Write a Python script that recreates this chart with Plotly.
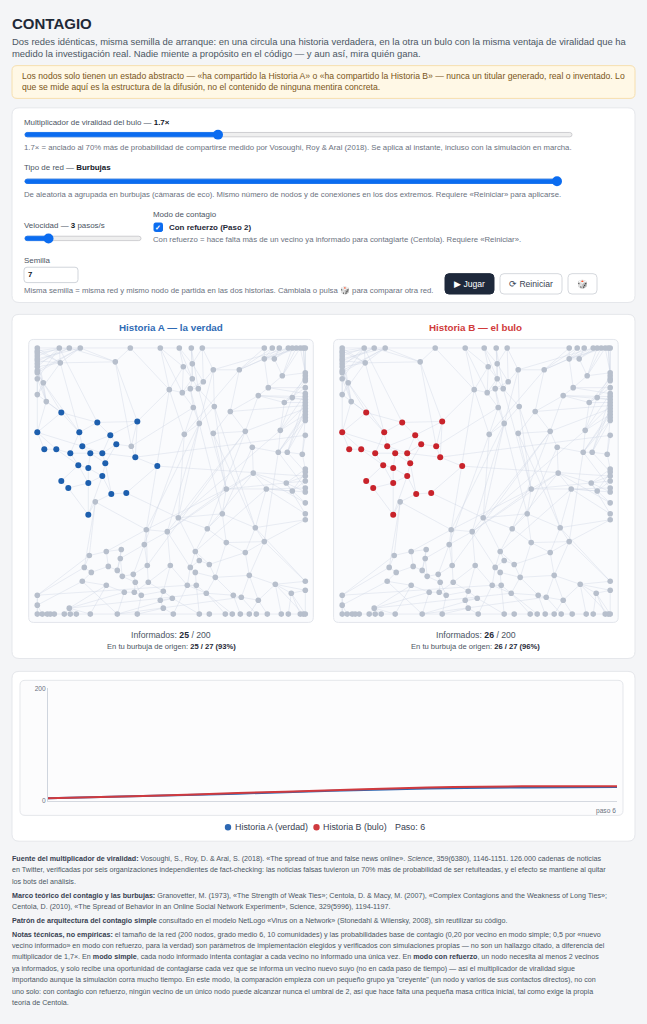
import plotly.graph_objects as go

# page is drawn at 631x1008 inside the default 8px body margin
W, H = 631, 1008
FONT = "Liberation Sans, Arial, sans-serif"

# ---- network layout (same red in both stories), layout units ----
top_row = [(0, 0), (22, 0), (32, 0), (43, 0), (93, 0), (123, 0), (142, 0), (154, 0), (165, 0),
           (227, 0), (235, 0), (242, 0), (251, 0), (255, 0), (259, 0), (263, 0), (266, 0), (268, 0)]
left_col = [(0, 3), (0, 5), (0, 8), (0, 11), (0, 13), (0, 16), (0, 19), (0, 23), (0, 25), (0, 31), (0, 47)]
right_col = [(268, 25), (268, 28), (268, 31), (268, 33), (268, 40), (268, 46), (268, 49), (268, 52),
             (268, 55), (268, 58), (268, 61), (268, 64), (268, 67), (268, 70), (268, 73), (268, 88),
             (268, 122), (268, 125), (268, 129), (268, 134), (268, 141), (268, 145), (268, 156),
             (268, 167), (268, 173), (268, 235), (268, 244)]
bottom_row = [(0, 268), (5, 268), (10, 268), (13, 268), (17, 268), (27, 268), (33, 268), (39, 268),
              (53, 268), (80, 268), (100, 268), (136, 268), (162, 268), (172, 268), (188, 268),
              (195, 268), (203, 268), (212, 268), (219, 268), (230, 268), (244, 268), (251, 268),
              (263, 268), (266, 268), (268, 268)]
interior = [(23, 15), (78, 14), (6, 35), (9, 54), (132, 42), (94, 99), (58, 155), (227, 11), (237, 11),
            (146, 19), (155, 16), (176, 22), (202, 22), (155, 31), (166, 34), (145, 45), (153, 41),
            (161, 41), (245, 28), (231, 40), (221, 48), (255, 50), (247, 55), (156, 60), (177, 59),
            (193, 64), (162, 76), (147, 87), (176, 86), (208, 84), (243, 83), (215, 100), (241, 105),
            (250, 105), (265, 107), (216, 126), (249, 136), (255, 144), (189, 142), (229, 142),
            (141, 171), (185, 167), (170, 182), (218, 181), (189, 196), (227, 195), (109, 183),
            (130, 185), (107, 198), (52, 209), (69, 205), (84, 203), (83, 212), (158, 205), (208, 206),
            (162, 214), (172, 218), (153, 221), (158, 226), (178, 231), (212, 229), (133, 219),
            (110, 219), (47, 221), (54, 226), (71, 220), (80, 224), (96, 228), (85, 230), (45, 235),
            (69, 239), (98, 236), (111, 236), (150, 239), (159, 239), (238, 238), (254, 247),
            (169, 247), (196, 249), (204, 251), (221, 254), (87, 246), (97, 246), (104, 249),
            (126, 245), (135, 252), (123, 254), (32, 262), (126, 262), (0, 249), (0, 259)]
seed_bubble = [(24, 65), (60, 75), (100, 74), (0, 85), (42, 85), (73, 88), (79, 97), (7, 102), (19, 102),
               (33, 106), (45, 99), (53, 106), (65, 106), (98, 110), (41, 118), (51, 121), (68, 116),
               (120, 119), (65, 129), (24, 134), (51, 136), (31, 141), (74, 147), (89, 146), (51, 168)]

nodes = top_row + left_col + right_col + bottom_row + interior + seed_bubble
node_u = [n[0] for n in nodes]
node_v = [n[1] for n in nodes]

edges = [
    # burbuja superior izquierda
    (0, 18), (0, 1), (1, 2), (2, 3), (18, 1), (19, 2), (20, 1), (21, 3), (22, 81), (23, 2), (24, 81),
    (25, 3), (26, 83), (27, 1), (28, 81), (18, 81), (20, 83), (22, 2), (25, 84), (27, 84), (0, 81),
    (21, 84), (1, 81), (3, 81), (83, 84), (28, 83), (19, 28), (24, 1), (26, 3), (28, 172), (84, 172),
    (83, 176), (27, 175), (84, 175), (26, 172), (3, 82), (2, 82), (81, 82), (3, 4), (4, 5), (5, 6),
    (82, 86), (82, 174), (1, 173), (81, 176),
    # burbuja de origen
    (172, 173), (172, 176), (172, 175), (173, 174), (173, 177), (173, 176), (174, 177), (174, 185),
    (174, 86), (175, 179), (175, 180), (175, 182), (176, 182), (176, 181), (177, 178), (177, 184),
    (178, 184), (178, 188), (178, 86), (179, 180), (180, 181), (180, 186), (181, 183), (182, 183),
    (182, 184), (183, 187), (183, 188), (184, 188), (184, 185), (185, 86), (185, 189), (186, 187),
    (186, 191), (187, 192), (188, 190), (188, 194), (190, 192), (190, 194), (191, 193), (192, 193),
    (192, 196), (193, 196), (194, 195), (195, 189), (196, 87), (190, 196), (186, 192), (181, 186),
    (187, 190), (177, 182), (183, 184), (174, 85), (189, 47), (195, 121), (194, 87), (86, 104),
    (185, 44),
    # arriba centro
    (5, 90), (5, 96), (6, 90), (6, 91), (7, 91), (7, 94), (8, 92), (8, 91), (90, 94), (91, 94),
    (90, 96), (94, 97), (94, 98), (95, 98), (95, 97), (96, 97), (97, 104), (98, 105), (96, 104),
    (85, 96), (85, 90), (85, 108), (104, 107), (105, 107), (107, 108), (104, 108), (95, 92), (92, 105),
    (5, 85), (4, 85), (6, 94), (8, 95), (91, 95), (7, 98), (97, 98), (94, 96), (107, 121), (98, 119),
    (105, 119), (92, 12), (93, 108), (92, 107), (4, 82),
    # arriba derecha
    (9, 88), (10, 88), (11, 89), (12, 89), (13, 99), (14, 99), (15, 29), (16, 30), (17, 29), (88, 89),
    (88, 93), (89, 99), (9, 93), (10, 93), (13, 89), (14, 88), (15, 99), (16, 31), (17, 32), (99, 100),
    (100, 101), (88, 100), (93, 106), (92, 93), (12, 93), (99, 29), (100, 33), (11, 88), (15, 88), (8, 9),
    # derecha centro
    (30, 102), (31, 103), (32, 102), (33, 103), (34, 111), (35, 114), (36, 102), (37, 103), (38, 111),
    (39, 114), (40, 113), (41, 111), (42, 115), (43, 114), (44, 115), (34, 100), (36, 101), (38, 106),
    (39, 110), (41, 113), (43, 113), (101, 106), (101, 103), (102, 103), (103, 111), (106, 110),
    (106, 109), (109, 110), (110, 112), (111, 113), (112, 113), (112, 116), (113, 114), (114, 115),
    (101, 110), (102, 111), (35, 101),
    # derecha abajo
    (45, 117), (46, 118), (47, 117), (48, 118), (49, 120), (50, 117), (51, 118), (52, 120), (53, 124),
    (45, 115), (46, 114), (116, 117), (116, 120), (116, 119), (117, 118), (118, 120), (119, 120),
    (119, 122), (119, 109), (120, 124), (48, 119), (51, 116), (52, 117), (50, 120), (49, 113),
    (54, 126), (55, 157), (54, 156), (55, 156), (54, 124), (53, 126),
    # centro abajo
    (121, 122), (121, 123), (122, 123), (122, 124), (123, 125), (124, 126), (125, 126), (123, 134),
    (125, 135), (126, 135), (122, 125), (124, 135), (121, 134), (134, 136), (134, 138), (135, 141),
    (136, 137), (136, 138), (137, 140), (138, 139), (139, 140), (140, 141), (135, 137), (134, 137),
    (126, 141), (125, 140), (121, 128), (107, 128), (108, 121), (110, 121), (112, 122), (109, 124),
    (113, 126), (108, 129), (105, 124), (97, 122), (85, 127), (110, 143), (116, 123), (120, 134),
    (119, 127), (119, 128), (116, 128), (107, 127), (110, 123), (111, 121),
    # abajo izquierda
    (127, 128), (127, 129), (128, 129), (128, 142), (129, 143), (127, 131), (130, 131), (130, 144),
    (131, 132), (131, 146), (132, 133), (132, 147), (133, 147), (133, 149), (143, 148), (143, 153),
    (142, 153), (142, 154), (144, 145), (145, 150), (145, 146), (146, 147), (147, 149), (148, 152),
    (149, 152), (150, 151), (151, 162), (152, 163), (153, 163), (162, 163), (163, 164), (164, 165),
    (165, 167), (166, 167), (165, 166), (153, 165), (148, 149), (129, 133), (129, 148), (128, 138),
    (142, 165), (162, 168), (169, 167), (152, 164), (127, 143),
    # abajo centro
    (154, 155), (155, 158), (154, 158), (158, 159), (159, 160), (160, 161), (161, 156), (156, 157),
    (155, 139), (154, 138), (159, 140), (161, 141), (156, 141), (157, 77), (157, 78), (161, 75),
    (160, 74), (159, 72), (158, 70), (155, 68), (154, 67), (166, 68), (169, 67), (156, 76), (157, 80),
    (141, 160), (140, 158), (158, 71), (161, 73), (156, 79),
    # esquina inferior izquierda
    (170, 56), (171, 56), (170, 171), (171, 57), (56, 57), (57, 58), (58, 59), (59, 60), (60, 61),
    (61, 62), (62, 63), (63, 64), (168, 61), (168, 63), (168, 64), (170, 144), (171, 150), (168, 151),
    (64, 151), (65, 162), (66, 164), (65, 150), (66, 169), (65, 166), (170, 130), (87, 130), (87, 144),
    (87, 127), (170, 154), (168, 158), (65, 160), (64, 65), (65, 66), (66, 67),
    (67, 68), (68, 69), (69, 70), (70, 71), (72, 73), (74, 75), (75, 76), (77, 78), (78, 79), (79, 80),
    (80, 55),
]

informed_a = [172, 173, 174, 175, 176, 177, 178, 179, 180, 181, 182, 183, 184, 185, 186, 187, 188,
              189, 190, 191, 192, 193, 194, 195, 196]
informed_b = informed_a + [86]

# ---- curva de informados ----
steps = [0, 1, 2, 3, 4, 5, 6]
historia_a = [5, 9, 13, 18, 22, 24, 25]
historia_b = [5, 9, 14, 19, 24, 26, 26]


def X(px):
    return (px - 8) / W


def Y(py):
    return 1 - (py - 8) / H


shapes = []
annotations = []


def rrect(x0, y0, x1, y1, r, fill, line="#e5e7eb", width=1):
    p = (f"M{X(x0 + r)},{Y(y0)} L{X(x1 - r)},{Y(y0)} Q{X(x1)},{Y(y0)} {X(x1)},{Y(y0 + r)} "
         f"L{X(x1)},{Y(y1 - r)} Q{X(x1)},{Y(y1)} {X(x1 - r)},{Y(y1)} L{X(x0 + r)},{Y(y1)} "
         f"Q{X(x0)},{Y(y1)} {X(x0)},{Y(y1 - r)} L{X(x0)},{Y(y0 + r)} Q{X(x0)},{Y(y0)} {X(x0 + r)},{Y(y0)} Z")
    shapes.append(dict(type="path", xref="paper", yref="paper", path=p, fillcolor=fill,
                       line=dict(color=line, width=width), layer="below"))


def dot(cx, cy, r, color):
    shapes.append(dict(type="circle", xref="paper", yref="paper", x0=X(cx - r), x1=X(cx + r),
                       y0=Y(cy + r), y1=Y(cy - r), fillcolor=color, line=dict(width=0), layer="below"))


def txt(px, py, s, size=8, color="#4b5563", anchor="left"):
    annotations.append(dict(x=X(px), y=Y(py), xref="paper", yref="paper", text=s, showarrow=False,
                            xanchor=anchor, yanchor="middle", borderpad=0,
                            font=dict(size=size, color=color, family=FONT)))


def slider(x0, x1, y, pos):
    rrect(x0, y - 2.2, x1, y + 2.2, 2.2, "#efefef", "#c4c4c8", 0.8)
    rrect(x0, y - 2.2, pos, y + 2.2, 2.2, "#0b6cf0", "#0b6cf0", 0.8)
    dot(pos, y, 5, "#0b6cf0")


DARK = "#111827"
LBL = 7.95
HLP = 7.75

# cabecera
txt(11, 20, "<b>CONTAGIO</b>", 15, "#1f2937")
txt(11, 37.5, "Dos redes idénticas, misma semilla de arranque: en una circula una historia verdadera, "
              "en la otra un bulo con la misma ventaja de viralidad que ha", 9.45)
txt(11, 49.5, "medido la investigación real. Nadie miente a propósito en el código — y aun así, mira quién gana.", 9.45)

rrect(12, 62, 635, 95, 5, "#fff8e6", "#f6dfae")
txt(21, 72.5, "Los nodos solo tienen un estado abstracto — «ha compartido la Historia A» o «ha compartido "
              "la Historia B» — nunca un titular generado, real o inventado. Lo", 8.65, "#7a5618")
txt(21, 84, "que se mide aquí es la estructura de la difusión, no el contenido de ninguna mentira concreta.",
    8.65, "#7a5618")

# controles
rrect(12, 104.5, 635, 300.5, 7, "#ffffff", "#e5e7eb")
txt(23, 119, f"Multiplicador de viralidad del bulo — <span style='color:{DARK}'><b>1.7×</b></span>", LBL)
slider(25, 572, 131.5, 218)
txt(23, 144.5, "1.7× = anclado al 70% más de probabilidad de compartirse medido por Vosoughi, Roy & Aral "
               "(2018). Se aplica al instante, incluso con la simulación en marcha.", HLP, "#6b7280")
txt(23, 165, f"Tipo de red — <span style='color:{DARK}'><b>Burbujas</b></span>", LBL)
slider(25, 558, 178.5, 557)
txt(23, 191.5, "De aleatoria a agrupada en burbujas (cámaras de eco). Mismo número de nodos y de conexiones "
               "en los dos extremos. Requiere «Reiniciar» para aplicarse.", HLP, "#6b7280")
txt(23, 222.5, f"Velocidad — <span style='color:{DARK}'><b>3</b></span> pasos/s", LBL)
slider(25, 141, 236, 48.5)
txt(152, 212, "Modo de contagio", LBL)
rrect(154, 220.5, 162.5, 229, 1.5, "#0b6cf0", "#0b6cf0")
txt(158.3, 224.8, "<b>✓</b>", 7, "#ffffff", "center")
txt(168, 225, "<span style='color:#1f2937'><b>Con refuerzo (Paso 2)</b></span>", LBL)
txt(152, 237.5, "Con refuerzo = hace falta más de un vecino ya informado para contagiarte (Centola). "
                "Requiere «Reiniciar».", HLP, "#6b7280")
txt(23, 258, "Semilla", LBL)
rrect(24, 265, 78, 280.5, 3, "#ffffff", "#d1d5db")
txt(27, 272.8, "<b>7</b>", 7.8, DARK)
txt(23, 288, "Misma semilla = misma red y mismo nodo de partida en las dos historias. Cámbiala o pulsa 🎲 "
             "para comparar otra red.", HLP, "#6b7280")
rrect(445, 271.5, 494, 292, 4, "#1e293b", "#1e293b")
txt(469.5, 282, "▶ Jugar", 8.6, "#ffffff", "center")
rrect(500, 271.5, 562, 292, 4, "#ffffff", "#d6d9de")
txt(531, 282, "⟳ Reiniciar", 8.6, "#374151", "center")
rrect(568, 271.5, 597, 292, 4, "#ffffff", "#d6d9de")
txt(582.5, 282, "🎲", 8.6, "#6b7280", "center")

# redes
rrect(12, 312.5, 635, 659, 7, "#ffffff", "#e5e7eb")
BOX = 284.6
panels = [(28.7, "x", "y", informed_a, "#1d5fae", "Historia A — la verdad", "#2f6bb5", 25, "25 / 27 (93%)"),
          (333.6, "x2", "y2", informed_b, "#c8232b", "Historia B — el bulo", "#d03b3b", 26, "26 / 27 (96%)")]
traces = []
for left, xa, ya, informed, col, title, tcol, n_inf, burbuja in panels:
    rrect(left, 337.7, left + BOX, 622.7, 5, "#fafbfd", "#e3e6ec")
    cx = left + BOX / 2
    txt(cx, 326, f"<b>{title}</b>", 9.8, tcol, "center")
    txt(cx, 635, f"Informados: <span style='color:#1f2937'><b>{n_inf}</b></span> / 200", 8.7, "#4b5563", "center")
    txt(cx, 647.3, f"En tu burbuja de origen: <span style='color:#1f2937'><b>{burbuja}</b></span>", 7.6,
        "#4b5563", "center")
    ex, ey = [], []
    for i, j in edges:
        ex += [node_u[i], node_u[j], None]
        ey += [node_v[i], node_v[j], None]
    traces.append(go.Scatter(x=ex, y=ey, mode="lines", xaxis=xa, yaxis=ya, hoverinfo="skip",
                             line=dict(color="rgba(205,212,228,0.5)", width=0.8)))
    rest = [k for k in range(len(nodes)) if k not in informed]
    traces.append(go.Scatter(x=[node_u[k] for k in rest], y=[node_v[k] for k in rest], mode="markers",
                             xaxis=xa, yaxis=ya, marker=dict(size=5.6, color="#b7bfcc")))
    traces.append(go.Scatter(x=[node_u[k] for k in informed], y=[node_v[k] for k in informed],
                             mode="markers", xaxis=xa, yaxis=ya, marker=dict(size=6, color=col)))

# grafico temporal
rrect(12, 672, 635, 843, 7, "#ffffff", "#e5e7eb")
rrect(20, 681, 623, 817, 5, "#fcfcfd", "#e5e7eb")
traces.append(go.Scatter(x=steps, y=historia_a, mode="lines", xaxis="x3", yaxis="y3",
                         line=dict(color="#2d68b3", width=2, shape="spline")))
traces.append(go.Scatter(x=steps, y=historia_b, mode="lines", xaxis="x3", yaxis="y3",
                         line=dict(color="#cf3a3f", width=2, shape="spline")))
txt(617, 812.5, "paso 6", 6.6, "#6b7280", "right")
dot(228, 829, 3.2, "#2d68b3")
txt(233.5, 829, "Historia A (verdad)", 8.9, "#374151")
dot(316.5, 829, 3.2, "#cf3a3f")
txt(322, 829, "Historia B (bulo)", 8.9, "#374151")
txt(393.5, 829, "Paso: 6", 8.9, "#374151")

# notas
B = "#374151"
notas = [
    (861, f"<span style='color:{B}'><b>Fuente del multiplicador de viralidad:</b></span> Vosoughi, S., Roy, D. & Aral, S. "
          "(2018). «The spread of true and false news online». <i>Science</i>, 359(6380), 1146-1151. 126.000 cadenas de noticias"),
    (872.5, "en Twitter, verificadas por seis organizaciones independientes de fact-checking: las noticias falsas "
            "tuvieron un 70% más de probabilidad de ser retuiteadas, y el efecto se mantiene al quitar"),
    (884, "los bots del análisis."),
    (898, f"<span style='color:{B}'><b>Marco teórico del contagio y las burbujas:</b></span> Granovetter, M. (1973), "
          "«The Strength of Weak Ties»; Centola, D. & Macy, M. (2007), «Complex Contagions and the Weakness of Long Ties»;"),
    (909.5, "Centola, D. (2010), «The Spread of Behavior in an Online Social Network Experiment», Science, "
            "329(5996), 1194-1197."),
    (923, f"<span style='color:{B}'><b>Patrón de arquitectura del contagio simple</b></span> consultado en el modelo "
          "NetLogo «Virus on a Network» (Stonedahl & Wilensky, 2008), sin reutilizar su código."),
    (937, f"<span style='color:{B}'><b>Notas técnicas, no empíricas:</b></span> el tamaño de la red (200 nodos, grado "
          "medio 6, 10 comunidades) y las probabilidades base de contagio (0,20 por vecino en modo simple; 0,5 por «nuevo"),
    (948.5, "vecino informado» en modo con refuerzo, para la verdad) son parámetros de implementación elegidos y "
            "verificados con simulaciones propias — no son un hallazgo citado, a diferencia del"),
    (960, f"multiplicador de 1,7×. En <span style='color:{B}'><b>modo simple</b></span>, cada nodo informado intenta "
          f"contagiar a cada vecino no informado una única vez. En <span style='color:{B}'><b>modo con refuerzo</b></span>, "
          "un nodo necesita al menos 2 vecinos"),
    (971.5, "ya informados, y solo recibe una oportunidad de contagiarse cada vez que se informa un vecino nuevo "
            "suyo (no en cada paso de tiempo) — así el multiplicador de viralidad sigue"),
    (983, "importando aunque la simulación corra mucho tiempo. En este modo, la comparación empieza con un pequeño "
          "grupo ya \"creyente\" (un nodo y varios de sus contactos directos), no con"),
    (994.5, "uno solo: con contagio con refuerzo, ningún vecino de un único nodo puede alcanzar nunca el umbral "
            "de 2, así que hace falta una pequeña masa crítica inicial, tal como exige la propia"),
    (1006, "teoría de Centola."),
]
for yy, s in notas:
    txt(11, yy, s, 7.15, "#4b5563")

fig = go.Figure(traces)
hidden = dict(visible=False, showgrid=False, zeroline=False)
fig.update_layout(
    width=W, height=H, margin=dict(l=0, r=0, t=0, b=0), showlegend=False,
    paper_bgcolor="#f4f5f7", plot_bgcolor="rgba(0,0,0,0)",
    font=dict(family=FONT),
    xaxis=dict(domain=[X(28.7), X(28.7 + BOX)], range=[-8.6, 276], anchor="y", **hidden),
    yaxis=dict(domain=[Y(622.7), Y(337.7)], range=[276.4, -8.6], anchor="x", **hidden),
    xaxis2=dict(domain=[X(333.6), X(333.6 + BOX)], range=[-8.6, 276], anchor="y2", **hidden),
    yaxis2=dict(domain=[Y(622.7), Y(337.7)], range=[276.4, -8.6], anchor="x2", **hidden),
    xaxis3=dict(domain=[X(48), X(617)], range=[0, 6], anchor="y3", showline=True, linecolor="#d5d9e0",
                showgrid=False, zeroline=False, showticklabels=False, ticks=""),
    yaxis3=dict(domain=[Y(802.5), Y(689)], range=[0, 200], anchor="x3", showline=True, linecolor="#cfd5de",
                showgrid=False, zeroline=False, tickvals=[0, 200], ticks="",
                tickfont=dict(size=6.6, color="#6b7280")),
    shapes=shapes, annotations=annotations,
)
fig.write_html("out.html", post_script="document.body.style.background='#f4f5f7';")
